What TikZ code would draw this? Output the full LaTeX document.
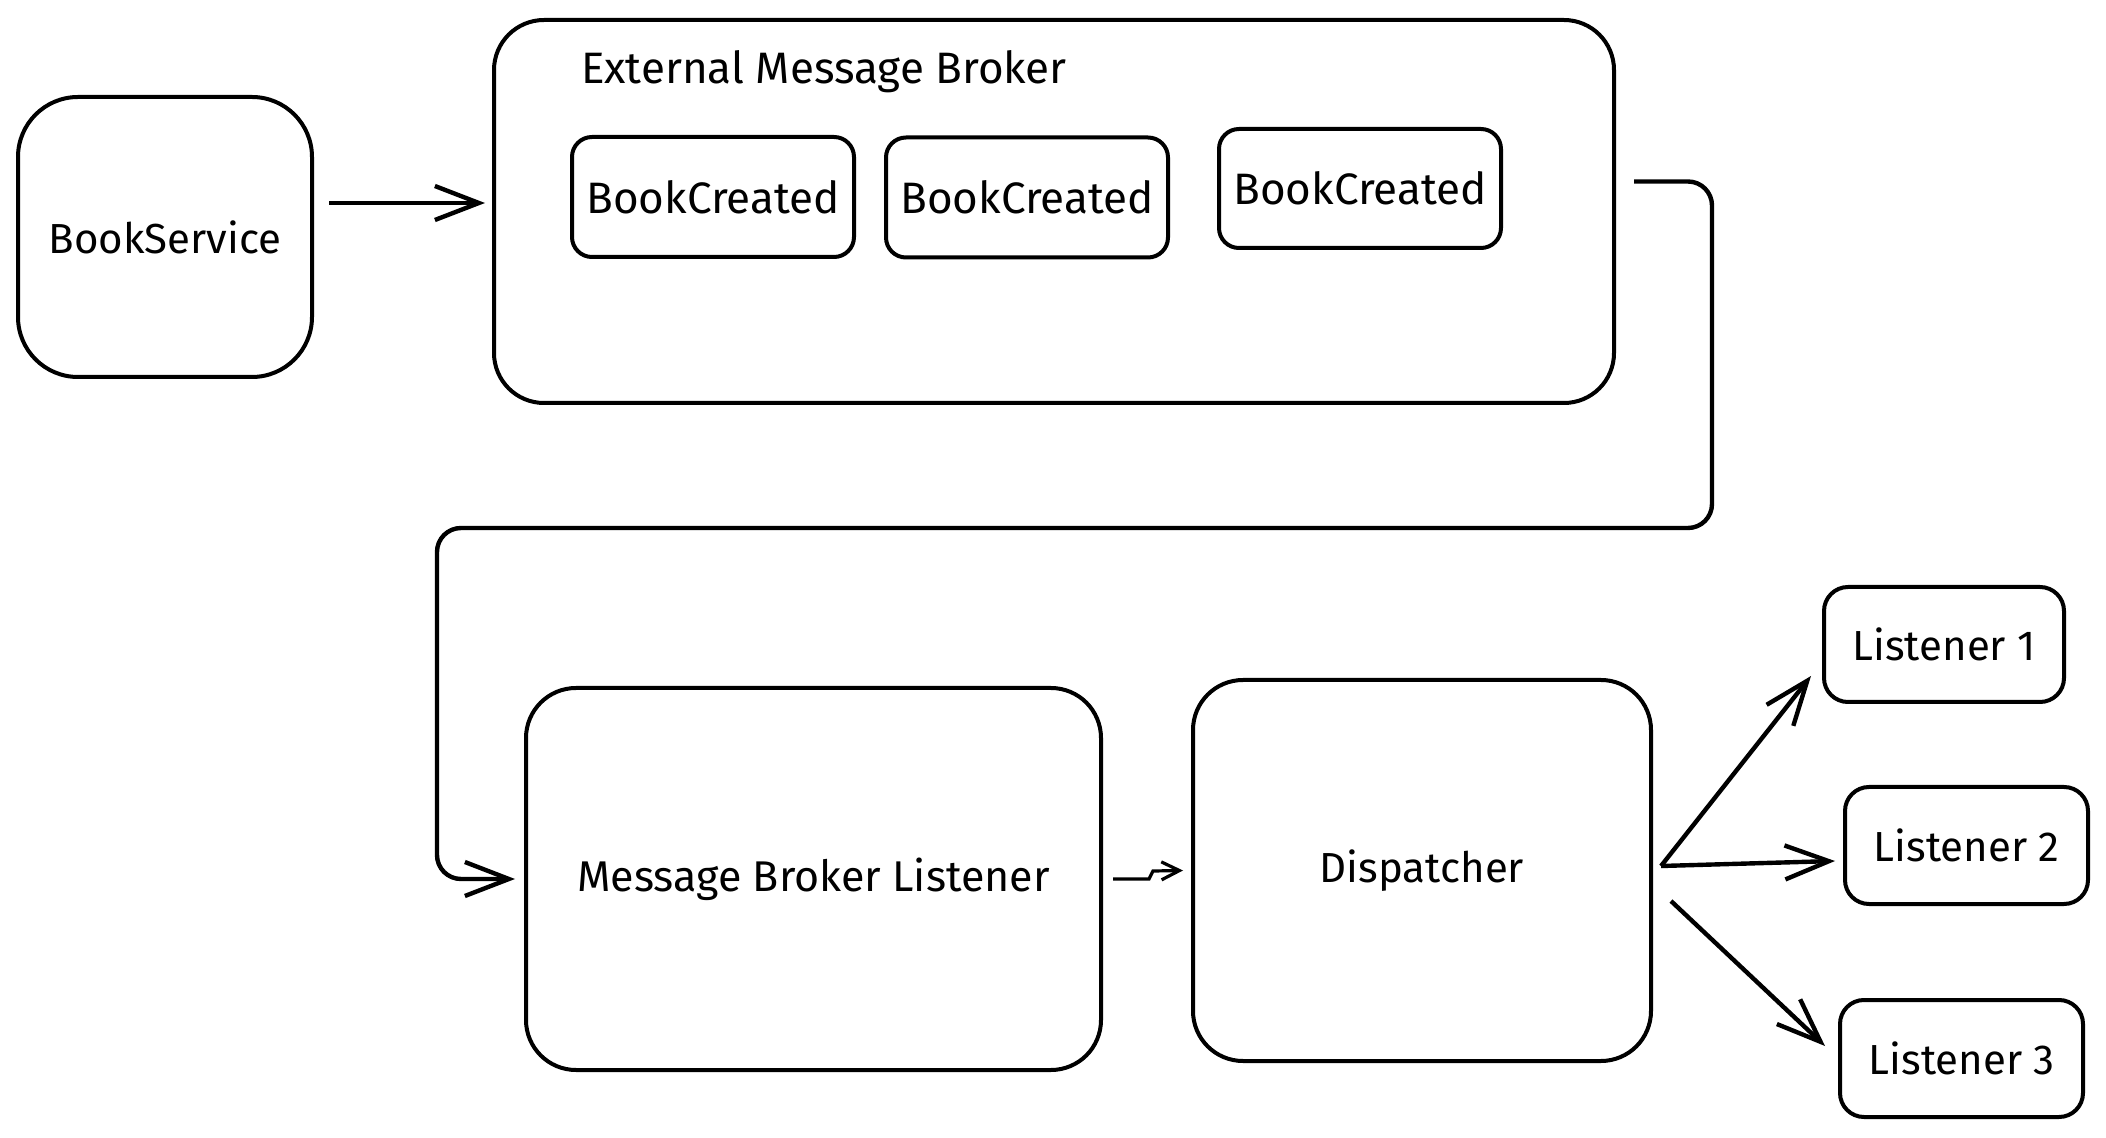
\documentclass[tikz,border=0pt]{standalone}
\usepackage{fontspec}
\setmainfont{Fira Sans}
\usetikzlibrary{arrows.meta}
\begin{document}
\begin{tikzpicture}[x=0.5pt,y=-0.5pt,
    box/.style={draw,line width=2pt,rounded corners=#1,align=center,font=\fontsize{21}{25}\selectfont},
    box/.default=14pt,
    arr/.style={draw,line width=2.2pt,-{Straight Barb[length=22pt,width=17pt]}}]
      \useasboundingbox (0,0) rectangle (2106,1138);
      \node[box=30pt,minimum width=147pt,minimum height=140pt] (svc) at (165,237) {BookService};
      \node[box=25pt,minimum width=560pt,minimum height=191.5pt] (broker) at (1054,211.5) {};
      \node[anchor=west,font=\fontsize{22}{26}\selectfont] (title) at (574,72) {External Message Broker};
      \node[box=10pt,minimum width=141pt,minimum height=60pt,font=\fontsize{22}{26}\selectfont] (ev1) at (713,197) {BookCreated};
      \node[box=10pt,minimum width=141pt,minimum height=60pt,font=\fontsize{22}{26}\selectfont] (ev2) at (1027,197.5) {BookCreated};
      \node[box=10pt,minimum width=141pt,minimum height=59.5pt,font=\fontsize{22}{26}\selectfont] (ev3) at (1360,188.5) {BookCreated};
      \node[box=25pt,minimum width=287.5pt,minimum height=191pt,font=\fontsize{21.5}{25}\selectfont] (mbl) at (813.5,879) {Message Broker Listener};
      \node[box=25pt,minimum width=229pt,minimum height=190.5pt] (disp) at (1422,870.5) {Dispatcher};
      \node[box=12pt,minimum width=120pt,minimum height=57.5pt] (l1) at (1944,644.5) {Listener 1};
      \node[box=12pt,minimum width=121.5pt,minimum height=58.5pt] (l2) at (1966.5,845.5) {Listener 2};
      \node[box=12pt,minimum width=121.5pt,minimum height=58.5pt] (l3) at (1961.5,1058.5) {Listener 3};
      \coordinate (bend) at (1712,528);
      \draw[arr,shorten >=3.5pt] ([shift={(15,-34)}]svc.east) coordinate (s1) -- (s1 -| broker.west);
      \draw[arr,rounded corners=12pt] ([shift={(18,-30)}]broker.east) -| (bend) -| ([shift={(-87,0)}]mbl.west) -- ([shift={(-9,0)}]mbl.west);
      \draw[arr,line width=1.6pt,-{Straight Barb[length=9pt,width=9pt]}] ([shift={(10,0)}]mbl.east) -- ++(36,0) -- ++(4,-8) -- ([shift={(-8,0)}]disp.west);
      \draw[arr] ([shift={(8,-4.5)}]disp.east) -- ([shift={(-11,-28)}]l1.south west);
      \draw[arr] ([shift={(8,-4.5)}]disp.east) -- ([shift={(-8,15.5)}]l2.west);
      \draw[arr] ([shift={(18,30.5)}]disp.east) -- ([shift={(-13,-12.5)}]l3.west);
    \end{tikzpicture}
\end{document}
